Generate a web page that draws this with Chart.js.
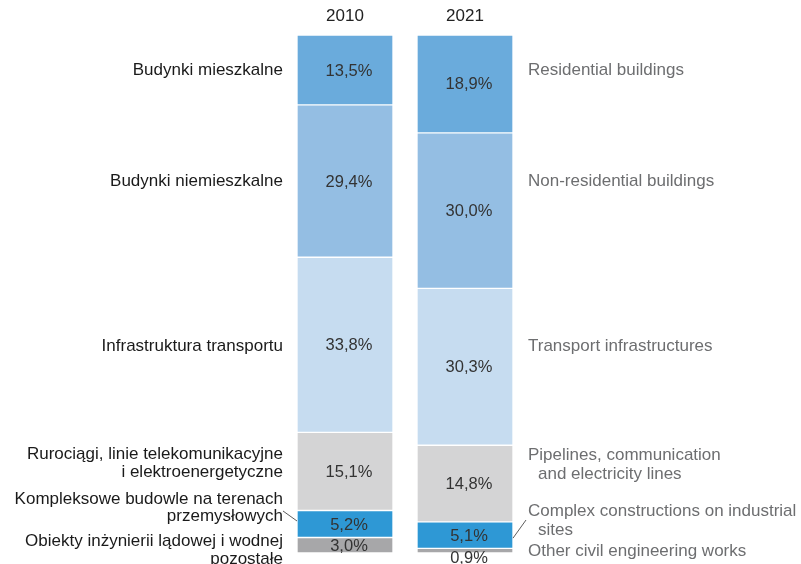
<!DOCTYPE html>
<html>
<head>
<meta charset="utf-8">
<script src="https://cdn.jsdelivr.net/npm/chart.js@4/dist/chart.umd.min.js"></script>
<style>
  html, body { margin: 0; padding: 0; background: #fff; }
</style>
</head>
<body>
<canvas id="chart" width="801" height="564"></canvas>
<script>

var years = ["2010", "2021"];
var labelsPl = [
  ["Budynki mieszkalne"],
  ["Budynki niemieszkalne"],
  ["Infrastruktura transportu"],
  ["Rurociągi, linie telekomunikacyjne", "i elektroenergetyczne"],
  ["Kompleksowe budowle na terenach", "przemysłowych"],
  ["Obiekty inżynierii lądowej i wodnej", "pozostałe"]
];
var labelsEn = [
  ["Residential buildings"],
  ["Non-residential buildings"],
  ["Transport infrastructures"],
  ["Pipelines, communication", "and electricity lines"],
  ["Complex constructions on industrial", "sites"],
  ["Other civil engineering works"]
];
var share2010 = [13.5, 29.4, 33.8, 15.1, 5.2, 3.0];
var share2021 = [18.9, 30.0, 30.3, 14.8, 5.1, 0.9];
var colors = ["#6aabdc", "#94bee3", "#c6dcf0", "#d4d4d5", "#2e98d5", "#a7a7a9"];

// vertical nudges for side labels, relative to the 2010 segment centre
var nudgeLeft  = [0, 0, 2, -8, -16, 5];
var nudgeRight = [0, 0, 2, -7, -3, 6];

var fontSide = "17px 'Liberation Sans', Arial, sans-serif";
var fontValue = "16.5px 'Liberation Sans', Arial, sans-serif";

var datasets = labelsEn.map(function (l, i) {
  return {
    label: l.join(" "),
    data: [share2010[i], share2021[i]],
    backgroundColor: colors[i],
    borderColor: "#ffffff",
    borderWidth: 1,
    borderSkipped: false,
    barThickness: 96
  };
});

function fmt(v) {
  return v.toFixed(1).replace(".", ",") + "%";
}

var sideLabels = {
  id: "sideLabels",
  afterDatasetsDraw: function (chart) {
    var ctx = chart.ctx;
    var x = chart.scales.x;
    ctx.save();
    ctx.textBaseline = "middle";

    // year headers
    ctx.font = fontSide;
    ctx.fillStyle = "#222";
    ctx.textAlign = "center";
    years.forEach(function (y, i) {
      ctx.fillText(y, x.getPixelForValue(i), 16);
    });

    // values inside the segments
    ctx.font = fontValue;
    ctx.fillStyle = "#333";
    chart.data.datasets.forEach(function (ds, di) {
      var meta = chart.getDatasetMeta(di);
      meta.data.forEach(function (bar, bi) {
        var top = Math.min(bar.y, bar.base), bot = Math.max(bar.y, bar.base);
        var cy = (top + bot) / 2;
        if (bot - top < 8) cy = bot + 4;
        ctx.fillText(fmt(ds.data[bi]), bar.x + 4, cy + 1);
      });
    });

    // category names on both sides, anchored to the 2010 bar
    ctx.font = fontSide;
    var meta0 = chart.data.datasets.map(function (ds, di) {
      return chart.getDatasetMeta(di).data[0];
    });
    var leftX = 283, rightX = 528, lhL = 17.5, lhR = 19;
    meta0.forEach(function (bar, i) {
      var cy = (bar.y + bar.base) / 2;
      var l = labelsPl[i], r = labelsEn[i];
      ctx.textAlign = "right";
      ctx.fillStyle = "#1a1a1a";
      var y0 = cy + nudgeLeft[i] - (l.length - 1) * lhL / 2;
      l.forEach(function (t, k) { ctx.fillText(t, leftX, y0 + k * lhL); });
      ctx.textAlign = "left";
      ctx.fillStyle = "#6d6e70";
      y0 = cy + nudgeRight[i] - (r.length - 1) * lhR / 2;
      r.forEach(function (t, k) { ctx.fillText(t, rightX + (k ? 10 : 0), y0 + k * lhR); });
    });

    // leader lines for the narrow "complex constructions" band
    var b1 = chart.getDatasetMeta(4).data[0];
    var b2 = chart.getDatasetMeta(4).data[1];
    ctx.strokeStyle = "#333";
    ctx.lineWidth = 0.8;
    ctx.beginPath();
    ctx.moveTo(283, 511);
    ctx.lineTo(b1.x - b1.width / 2, (b1.y + b1.base) / 2 - 3);
    ctx.moveTo(b2.x + b2.width / 2, (b2.y + b2.base) / 2 + 3);
    ctx.lineTo(526, 520);
    ctx.stroke();
    ctx.restore();
  }
};

new Chart(document.getElementById("chart"), {
  type: "bar",
  data: { labels: years, datasets: datasets },
  options: {
    responsive: false,
    animation: false,
    layout: { padding: { left: 285, right: 276, top: 35, bottom: 11 } },
    plugins: { legend: { display: false }, tooltip: { enabled: false } },
    scales: {
      x: { display: false, stacked: true },
      y: { display: false, stacked: true, reverse: true, min: 0, max: 100 }
    }
  },
  plugins: [sideLabels]
});
</script>
</body>
</html>
